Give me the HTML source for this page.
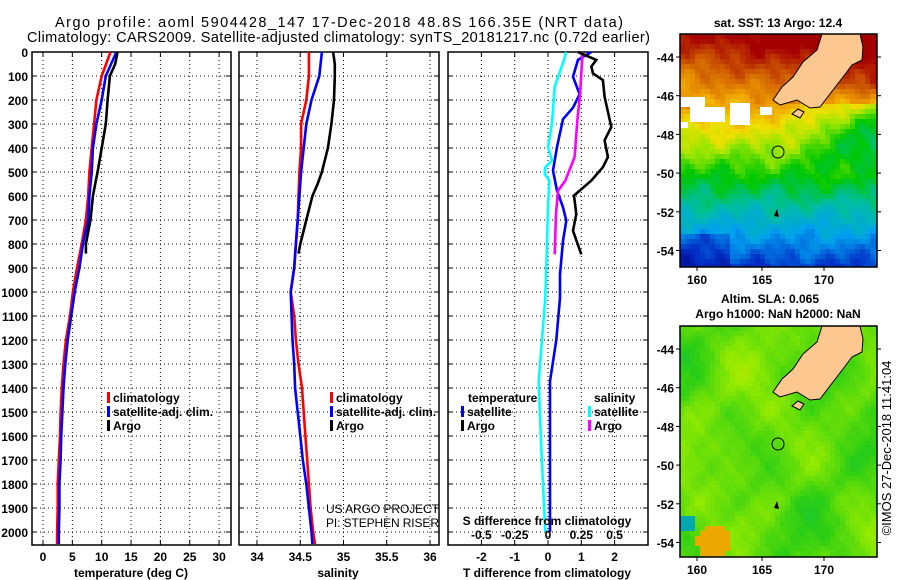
<!DOCTYPE html>
<html><head><meta charset="utf-8"><title>Argo profile</title>
<style>
html,body{margin:0;padding:0;background:#fff;}
svg{display:block;font-family:"Liberation Sans",sans-serif;}
.b{font-weight:bold;font-size:12px;}
.t{font-size:14.5px;}
</style></head>
<body>
<svg id="fig" width="900" height="580" viewBox="0 0 900 580">
<g id="maps"></g>
<g id="plots"></g>
<g id="texts"></g>
</svg>
<script>
// ---------- data ----------
const depthTicks = [0,100,200,300,400,500,600,700,800,900,1000,1100,1200,1300,1400,1500,1600,1700,1800,1900,2000];
const tempTicks = [0,5,10,15,20,25,30];
const salTicks = [34,34.5,35,35.5,36];
const salTickLabels = ["34","34.5","35","35.5","36"];
const tdiffTicks = [-2,-1,0,1,2];
const sdiffTicks = [-0.5,-0.25,0,0.25,0.5];
const sdiffTickLabels = ["-0.5","-0.25","0","0.25","0.5"];
const depthsClim = [0,100,200,300,400,500,600,700,800,900,1000,1100,1200,1300,1400,1500,1600,1700,1800,1900,2000,2050];
const tempClim = [11.5,10,9.1,8.7,8.3,7.9,7.7,7.3,6.6,5.8,5.1,4.6,3.9,3.5,3.2,3.0,2.9,2.7,2.5,2.5,2.4,2.4];
const tempSat = [12.5,10.7,10,9.1,8.5,8.3,7.9,7.7,6.8,6.2,5.4,4.8,4.2,3.8,3.5,3.3,3.1,3.0,2.8,2.8,2.7,2.7];
const salClim = [34.6,34.6,34.57,34.51,34.51,34.49,34.48,34.47,34.45,34.43,34.39,34.43,34.45,34.48,34.52,34.54,34.56,34.58,34.6,34.62,34.65,34.67];
const salSat = [34.75,34.72,34.63,34.57,34.54,34.51,34.49,34.47,34.45,34.43,34.39,34.4,34.41,34.43,34.44,34.47,34.5,34.53,34.57,34.6,34.63,34.64];
const depthsArgo = [0,50,100,200,300,400,500,550,600,700,800,840];
const tempArgo = [12.7,12.3,11.4,11,10.7,10,9.3,8.9,8.5,8.1,7.3,7.3];
const salArgo = [34.88,34.9,34.9,34.89,34.86,34.82,34.75,34.7,34.64,34.57,34.5,34.48];
const dTArgoDepth = [0,33,61,89,117,187,312,368,438,480,536,598,675,745,843];
const dTArgo = [0.9,1.45,1.3,1.35,1.65,1.7,1.9,1.7,1.8,1.65,1.3,0.78,0.85,0.75,1.0];
const dSArgoDepth = [0,176,287,438,536,578,675,843];
const dSArgo = [0.26,0.24,0.22,0.2,0.13,0.075,0.06,0.05];
const dTSatDepth = [0,33,103,176,232,280,396,494,578,647,703,787,926,1024,1200,1372,1700,2000];
const dTSat = [1.3,0.9,0.75,0.95,0.75,0.45,0.27,0.15,0.27,0.45,0.55,0.45,0.36,0.36,0.25,0.06,0.06,0.06];
const dSSatDepth = [0,33,145,298,396,452,480,508,536,647,843,1024,1372,1651,2000];
const dSSat = [0.135,0.12,0.05,0.03,0,0.03,-0.02,-0.025,0.01,0,-0.01,-0.02,-0.07,-0.05,-0.02];

// ---------- axes ----------
const NS="http://www.w3.org/2000/svg";
const yD = d => 52 + d*0.24;
const xT = t => 43 + t*5.87;
const xS = s => 257 + (s-34)*86.5;
const xDT = v => 548 + v*33.3;
const xDS = v => 548 + v*133.2;
const PT=52, PB=545;
const panels=[[32,231],[239,439],[448,648]];
function el(tag,attrs,parent){const e=document.createElementNS(NS,tag);for(const k in attrs)e.setAttribute(k,attrs[k]);parent.appendChild(e);return e;}
const plots=document.getElementById('plots');
const texts=document.getElementById('texts');
function txt(x,y,s,cls,anchor,parent,name){const e=el('text',{x:x,y:y,class:cls,'text-anchor':anchor||'start'},parent||texts);e.textContent=s;


return e;}

panels.forEach((p,i)=>{
  const g=el('g',{},plots);
  
  
  depthTicks.forEach(d=>{
    const l=el('line',{x1:p[0],x2:p[1],y1:yD(d),y2:yD(d),stroke:'#000','stroke-width':1,'stroke-dasharray':'1 3'},g);
    
    
    el('line',{x1:p[0],x2:p[0]+5,y1:yD(d),y2:yD(d),stroke:'#000'},g);
    el('line',{x1:p[1]-5,x2:p[1],y1:yD(d),y2:yD(d),stroke:'#000'},g);
  });
  const xs = i==0 ? tempTicks.map(xT) : i==1 ? salTicks.map(xS) : tdiffTicks.map(xDT);
  xs.forEach(x=>{
    const l=el('line',{x1:x,x2:x,y1:PT,y2:PB,stroke:'#000','stroke-width':1,'stroke-dasharray':'1 3'},g);
    
    
    el('line',{x1:x,x2:x,y1:PB-5,y2:PB,stroke:'#000'},g);
    el('line',{x1:x,x2:x,y1:PT,y2:PT+5,stroke:'#000'},g);
  });
  const r=el('rect',{x:p[0],y:PT,width:p[1]-p[0],height:PB-PT,fill:'none',stroke:'#000','stroke-width':1.5},g);
  
  
});
depthTicks.forEach(d=>txt(28,yD(d)+5,String(d),'b','end',texts,'depth-tick-label'));
tempTicks.forEach(t=>txt(xT(t),561,String(t),'b','middle',texts,'temperature-tick-label'));
salTicks.forEach((s,k)=>txt(xS(s),561,salTickLabels[k],'b','middle',texts,'salinity-tick-label'));
tdiffTicks.forEach(v=>txt(xDT(v),561,String(v),'b','middle',texts,'tdiff-tick-label'));
sdiffTicks.forEach((v,k)=>txt(xDS(v),539,sdiffTickLabels[k],'b','middle',texts,'sdiff-tick-label'));
txt(131,577,'temperature (deg C)','b','middle',texts,'temperature-axis-title');
txt(338,577,'salinity','b','middle',texts,'salinity-axis-title');
txt(547,577,'T difference from climatology','b','middle',texts,'tdiff-axis-title');
txt(547,525,'S difference from climatology','b','middle',texts,'sdiff-axis-title');

function series(xs,ds,fx,color,name){
  const pts=xs.map((v,k)=>fx(v).toFixed(1)+','+yD(ds[k]).toFixed(1)).join(' ');
  const pl=el('polyline',{points:pts,fill:'none',stroke:color,'stroke-width':2.6,'stroke-linejoin':'miter'},plots);
  
  
}
series(tempClim,depthsClim,xT,'#ff0000','temperature-climatology-line');
series(tempSat,depthsClim,xT,'#0000ff','temperature-satellite-line');
series(tempArgo,depthsArgo,xT,'#000000','temperature-argo-line');
series(salClim,depthsClim,xS,'#ff0000','salinity-climatology-line');
series(salSat,depthsClim,xS,'#0000ff','salinity-satellite-line');
series(salArgo,depthsArgo,xS,'#000000','salinity-argo-line');
series(dSSat,dSSatDepth,xDS,'#00ffff','sdiff-satellite-line');
series(dTSat,dTSatDepth,xDT,'#0000ff','tdiff-satellite-line');
series(dSArgo,dSArgoDepth,xDS,'#ff00ff','sdiff-argo-line');
series(dTArgo,dTArgoDepth,xDT,'#000000','tdiff-argo-line');

function legendEntry(x,y,color,label,name){
  const m=el('rect',{x:x,y:y-10,width:3,height:11,fill:color},texts);
  
  
  txt(x+6,y,label,'b','start',texts,name);
}
[[107],[330]].forEach((p,i)=>{
  const pre=i?'salinity':'temperature';
  legendEntry(p[0],402,'#ff0000','climatology',pre+'-legend-climatology');
  legendEntry(p[0],416,'#0000ff','satellite-adj. clim.',pre+'-legend-satellite');
  legendEntry(p[0],430,'#000000','Argo',pre+'-legend-argo');
});
txt(468,402,'temperature','b','start',texts,'legend-temperature-title');
legendEntry(461,416,'#0000ff','satellite','tdiff-legend-satellite');
legendEntry(461,430,'#000000','Argo','tdiff-legend-argo');
txt(594,402,'salinity','b','start',texts,'legend-salinity-title');
legendEntry(588,416,'#00ffff','satellite','sdiff-legend-satellite');
legendEntry(588,430,'#ff00ff','Argo','sdiff-legend-argo');
const us=txt(326,513,'US ARGO PROJECT','','start',texts,'project-credit');us.setAttribute('font-size','12');us.setAttribute('textLength','113');
const pi=txt(326,527,'PI: STEPHEN RISER','','start',texts,'pi-credit');pi.setAttribute('font-size','12');pi.setAttribute('textLength','113');

const t1=txt(55,27,'Argo profile: aoml 5904428_147 17-Dec-2018 48.8S 166.35E (NRT data)','t','start',texts,'title-line-1');t1.setAttribute('textLength','568');
const t2=txt(27,42,'Climatology: CARS2009. Satellite-adjusted climatology: synTS_20181217.nc (0.72d earlier)','t','start',texts,'title-line-2');t2.setAttribute('textLength','623');

// ---------- maps ----------
const maps=document.getElementById('maps');
const MX0=680,MX1=877;
function noise(x,y,s){return Math.sin(x*0.9+s)*Math.cos(y*0.7+s*2)+0.6*Math.sin(x*0.37+y*0.53+s*3)+0.4*Math.cos(x*1.7-y*1.3+s);}
function blob(x,y,s){return 0.5*Math.sin(x*0.23+s)*Math.sin(y*0.19+s*1.7)+0.35*Math.sin(x*0.41-s)*Math.cos(y*0.33+s*0.6)+0.25*Math.cos(x*0.13+y*0.09+s*2.3);}
function lerpCol(stops,t){t=Math.max(0,Math.min(1,t));for(let k=1;k<stops.length;k++){if(t<=stops[k][0]){const a=stops[k-1],b=stops[k];const f=(t-a[0])/(b[0]-a[0]);const c=[0,1,2].map(j=>Math.round(a[1][j]+(b[1][j]-a[1][j])*f));return 'rgb('+c.join(',')+')';}}return 'rgb('+stops[stops.length-1][1].join(',')+')';}
const jet=[[0,[0,0,130]],[0.12,[0,50,200]],[0.25,[0,160,240]],[0.37,[0,190,160]],[0.48,[0,200,0]],[0.58,[150,230,0]],[0.66,[240,225,0]],[0.76,[240,160,0]],[0.86,[210,100,0]],[1,[165,0,0]]];
const sla=[[0,[0,150,230]],[0.2,[0,190,120]],[0.4,[40,205,20]],[0.6,[150,235,0]],[0.8,[230,225,0]],[1,[240,130,0]]];
function drawMap(y0,y1,kind,name){
  const g=el('g',{},maps);
  
  
  const cs=5;
  for(let y=y0;y<y1;y+=cs){for(let x=MX0;x<MX1;x+=cs){
    const u=(x-MX0)/(MX1-MX0), w=(y-y0)/(y1-y0);
    let t;
    if(kind==='sst'){
      t=1.02-0.9*w;
      if(w<0.3) t+=0.14*(u-0.35);
      if(w>0.2&&w<0.6) t-=0.22*Math.max(0,u-0.5)*2*Math.sin(Math.PI*(w-0.2)/0.4);
      if(w>0.85&&u<0.25) t-=0.06;
      t+=0.03*noise(x/5,y/5,1);
    } else {
      t=0.5+0.14*blob(x/5,y/5,2)+0.02*noise(x/4,y/4,5);
      const dx=x-712,dy=y-(y0+213);if(dx*dx+dy*dy<300)t=0.92;
      const dx2=x-682,dy2=y-(y0+195);if(dx2*dx2+dy2*dy2<100)t=0.1;
    }
    el('rect',{x:x,y:y,width:Math.min(cs,MX1-x),height:Math.min(cs,y1-y),fill:lerpCol(kind==='sst'?jet:sla,t)},g);
  }}
  if(kind==='sst'){[[680,97,25,10],[690,107,35,15],[730,103,20,22],[680,122,8,6],[760,107,12,8]].forEach(r=>el('rect',{x:r[0],y:r[1],width:r[2],height:r[3],fill:'#fff'},g));}
  const land=[[142,0],[137,16],[123,28],[113,43],[102,53],[93,66],[100,71],[117,66],[130,74],[140,73],[153,56],[163,43],[172,31],[182,26],[183,13],[180,0]];
  const pts=land.map(p=>(MX0+p[0])+','+(y0+p[1])).join(' ');
  const lp=el('polygon',{points:pts,fill:'#fcc890',stroke:'#000','stroke-width':1},g);
  
  
  el('polygon',{points:[[112,80],[118,75],[124,78],[120,84]].map(p=>(MX0+p[0])+','+(y0+p[1])).join(' '),fill:'#fcc890',stroke:'#000'},g);
  el('polygon',{points:[[94,182],[97,175],[99,183]].map(p=>(MX0+p[0])+','+(y0+p[1])).join(' '),fill:'#000'},g);
  const c=el('circle',{cx:778,cy:y0+118,r:6,fill:'none',stroke:'#000','stroke-width':1},g);
  
  
  const fr=el('rect',{x:MX0,y:y0,width:MX1-MX0,height:y1-y0,fill:'none',stroke:'#000','stroke-width':1.5},g);
  
  
  const lonT=[[160,697],[165,762],[170,824]];
  lonT.forEach(l=>{el('line',{x1:l[1],x2:l[1],y1:y1,y2:y1+4,stroke:'#000'},g);txt(l[1],y1+17,String(l[0]),'b','middle',texts,'map-lon-label');});
  [-44,-46,-48,-50,-52,-54].forEach((lat,k)=>{const y=y0+23+k*38.7;el('line',{x1:MX0-4,x2:MX0,y1:y,y2:y,stroke:'#000'},g);el('line',{x1:MX1,x2:MX1+4,y1:y,y2:y,stroke:'#000'},g);txt(MX0-6,y+5,String(lat),'b','end',texts,'map-lat-label');});
}
drawMap(34,267,'sst','sst-map');
drawMap(326,557,'sla','sla-map');
txt(778,27,'sat. SST: 13 Argo: 12.4','b','middle',texts,'sst-map-title');
txt(770,303,'Altim. SLA: 0.065','b','middle',texts,'sla-map-title');
txt(778,318,'Argo h1000: NaN h2000: NaN','b','middle',texts,'argo-height-text');
const im=txt(0,0,'©IMOS 27-Dec-2018 11:41:04','','middle',texts,'imos-timestamp');
im.setAttribute('font-size','13');im.setAttribute('transform','translate(891,448) rotate(-90)');
</script>
</body></html>
